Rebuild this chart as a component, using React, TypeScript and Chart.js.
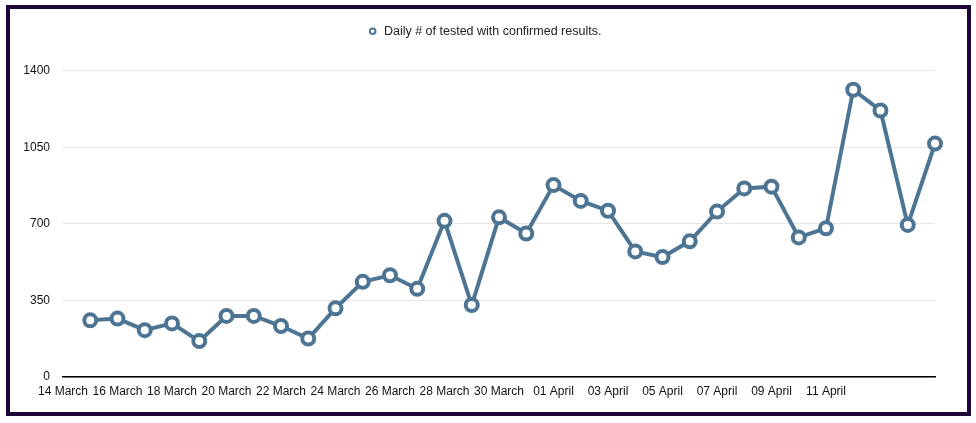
import React, { useEffect, useRef } from "react";
import { Chart, registerables } from "chart.js";

Chart.register(...registerables);

const categories: string[] = [
  "14 March", "15 March", "16 March", "17 March", "18 March", "19 March", "20 March",
  "21 March", "22 March", "23 March", "24 March", "25 March", "26 March", "27 March",
  "28 March", "29 March", "30 March", "31 March", "01 April", "02 April", "03 April",
  "04 April", "05 April", "06 April", "07 April", "08 April", "09 April", "10 April",
  "11 April", "12 April", "13 April", "14 April", "15 April",
];

const shownTickLabels: string[] = [
  "14 March", "16 March", "18 March", "20 March", "22 March", "24 March", "26 March",
  "28 March", "30 March", "01 April", "03 April", "05 April", "07 April", "09 April", "11 April",
];

const seriesLabel = "Daily # of tested with confirmed results.";

const dailyTested: (number | null)[] = [
  null, 259, 267, 214, 245, 164, 279, 279, 233, 176, 314, 435, 465, 403, 714, 329,
  730, 656, 877, 805, 760, 574, 548, 620, 756, 862, 870, 638, 680, 1313, 1218, 695, 1067,
];

const yTicks: number[] = [0, 350, 700, 1050, 1400];

const LINE = "#4d7593";
const FONT = "'Liberation Sans', Arial, Helvetica, sans-serif";

export default function App() {
  const ref = useRef<HTMLCanvasElement | null>(null);

  useEffect(() => {
    if (!ref.current) return;
    const chart = new Chart(ref.current, {
      type: "line",
      data: {
        labels: categories,
        datasets: [
          {
            label: seriesLabel,
            data: dailyTested,
            borderColor: LINE,
            backgroundColor: "#ffffff",
            borderWidth: 4,
            pointRadius: 6,
            pointBorderWidth: 4,
            pointBackgroundColor: "#ffffff",
            pointBorderColor: LINE,
            tension: 0,
            spanGaps: false,
          },
        ],
      },
      options: {
        animation: false,
        responsive: false,
        devicePixelRatio: 1,
        layout: { padding: { left: 0, right: 8, top: 6, bottom: 0 } },
        plugins: {
          tooltip: { enabled: false },
          subtitle: {
            display: true,
            text: "",
            position: "top",
            weight: 500,
            font: { size: 1 },
            padding: { top: 0, bottom: 22 },
          },
          legend: {
            display: true,
            position: "top",
            labels: {
              usePointStyle: true,
              pointStyle: "circle",
              boxWidth: 10,
              boxHeight: 4,
              color: "#222222",
              padding: 10,
              font: { family: FONT, size: 12.5 },
              generateLabels: (c: any) =>
                Chart.defaults.plugins.legend.labels
                  .generateLabels(c)
                  .map((l: any) => ({ ...l, lineWidth: 2, fillStyle: "#ffffff", strokeStyle: LINE })),
            },
          },
        },
        scales: {
          x: {
            type: "category",
            offset: false,
            grid: { display: false, drawTicks: false },
            border: { display: true, color: "#000000", width: 1.5 },
            ticks: {
              autoSkip: false,
              maxRotation: 0,
              minRotation: 0,
              padding: 7,
              color: "#111111",
              font: { family: FONT, size: 12 },
              callback: (_v: any, i: number) =>
                shownTickLabels.includes(categories[i]) ? categories[i] : "",
            },
            afterFit: (s: any) => {
              s.height = 35;
            },
          },
          y: {
            min: 0,
            max: 1400,
            afterBuildTicks: (s: any) => {
              s.ticks = yTicks.map((v) => ({ value: v }));
            },
            grid: { color: "#e6e6e6", lineWidth: 1, drawTicks: false },
            border: { display: false },
            ticks: {
              padding: 13,
              color: "#111111",
              font: { family: FONT, size: 12 },
              callback: (v: any) => String(v),
            },
            afterFit: (s: any) => {
              s.width = 53;
            },
          },
          yRightSpace: {
            type: "linear",
            position: "right",
            display: true,
            grid: { display: false, drawTicks: false },
            border: { display: false },
            ticks: { display: false },
            afterFit: (s: any) => {
              s.width = 24;
            },
          },
        },
      },
    } as any);
    return () => chart.destroy();
  }, []);

  return (
    <div
      style={{
        position: "absolute",
        left: 6,
        top: 5,
        width: 957,
        height: 403,
        border: "4px solid #1d0538",
        background: "#ffffff",
      }}
    >
      <canvas ref={ref} width={957} height={403} style={{ display: "block" }} />
    </div>
  );
}
